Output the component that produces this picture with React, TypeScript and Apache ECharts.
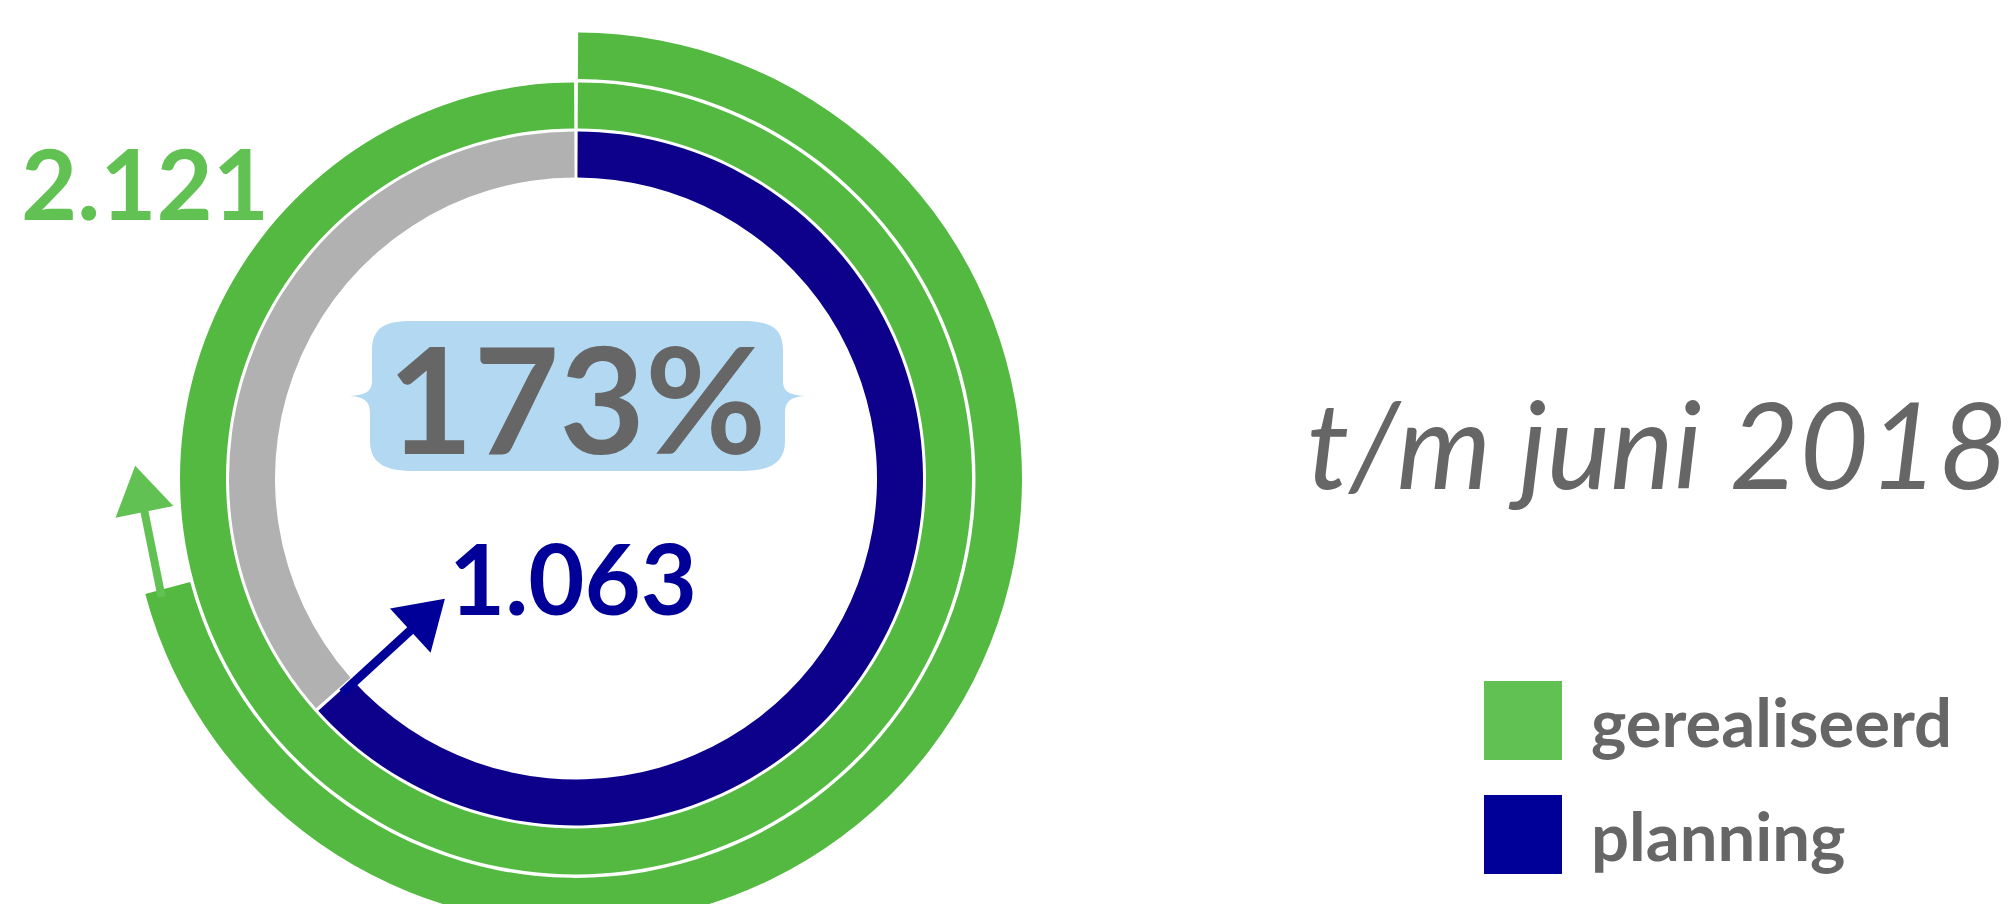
import React, { useEffect, useRef } from "react";
import * as echarts from "echarts";

// ---- data ----
const seriesNames = ["gerealiseerd", "planning"];
// share of a full circle drawn for each series (percent)
const ringShares = [170.9, 63.4];
const valueLabels = ["2.121", "1.063"];
const percentLabel = "173%";
const periodLabel = "t/m juni 2018";

// ---- styles ----
const GREEN_RING = "#53b941";
const GREEN = "#62c153";
const BLUE_RING = "#0d008b";
const BLUE = "#000099";
const GRAY = "#b1b1b1";
const TEXT = "#666666";
const BOX = "#b3d8f1";

const BRACE_D =
  "M 63 0 C 35 0 22 6 22 30 L 22 60 C 22 70 16 74 0 75 C 16 76 20 82 20 92 L 20 120 C 20 142 35 150 63 150 " +
  "L 392 150 C 420 150 435 142 435 120 L 435 92 C 435 82 439 76 455 75 C 439 74 433 70 433 60 L 433 30 C 433 6 420 0 392 0 Z";
echarts.graphic.registerShape("brace", echarts.graphic.extendPath(BRACE_D, {}));

export default function App() {
  const ref = useRef<HTMLDivElement>(null);
  useEffect(() => {
    document.body.style.margin = "0";
    const chart = echarts.init(ref.current as HTMLDivElement, null, { renderer: "svg" });
    const cx = 576;
    const cy = 478.4;
    const innerR = [301, 347];
    const middleR = [350, 396];
    const outerR = [399.5, 446];
    const pad = 0.55;
    const [realised, planned] = ringShares;
    const middleShare = Math.min(realised, 100);
    const outerShare = Math.max(realised - 100, 0);

    const polar = (r: number, deg: number) => {
      const a = (deg * Math.PI) / 180;
      return [cx + r * Math.sin(a), cy - r * Math.cos(a)];
    };
    const realisedEnd = (outerShare / 100) * 360;
    const plannedEnd = (planned / 100) * 360;

    const arrow = (from: number[], to: number[], color: string, width: number, headLen: number, headW: number) => {
      const dx = to[0] - from[0];
      const dy = to[1] - from[1];
      const L = Math.hypot(dx, dy);
      const ux = dx / L;
      const uy = dy / L;
      const base = [to[0] - ux * headLen, to[1] - uy * headLen];
      const px = -uy;
      const py = ux;
      return [
        {
          type: "line",
          z: 100,
          silent: true,
          shape: { x1: from[0], y1: from[1], x2: base[0] + ux * 3, y2: base[1] + uy * 3 },
          style: { stroke: color, lineWidth: width },
        },
        {
          type: "polygon",
          z: 100,
          silent: true,
          shape: {
            points: [
              to,
              [base[0] + (px * headW) / 2, base[1] + (py * headW) / 2],
              [base[0] - (px * headW) / 2, base[1] - (py * headW) / 2],
            ],
          },
          style: { fill: color },
        },
      ];
    };

    const commonPie = {
      type: "pie",
      center: [cx, cy],
      startAngle: 90,
      clockwise: true,
      padAngle: pad,
      silent: true,
      label: { show: false },
      labelLine: { show: false },
      emphasis: { disabled: true },
      itemStyle: { borderWidth: 0 },
    };

    const option = {
      animation: false,
      backgroundColor: "#ffffff",
      legend: {
        data: [
          { name: seriesNames[0], itemStyle: { color: GREEN } },
          { name: seriesNames[1], itemStyle: { color: BLUE } },
        ],
        orient: "vertical",
        left: 1484,
        top: 681,
        padding: 0,
        itemWidth: 78,
        itemHeight: 79,
        itemGap: 35,
        icon: "rect",
        selectedMode: false,
        textStyle: {
          fontFamily: "Lato",
          fontWeight: "bold",
          fontSize: 67,
          color: TEXT,
          padding: [0, 0, 0, 24],
        },
      },
      series: [
        {
          ...commonPie,
          name: "planning-ring",
          radius: innerR,
          data: [
            { name: seriesNames[1], value: planned, itemStyle: { color: BLUE_RING } },
            { name: "planning-rest", value: 100 - planned, itemStyle: { color: GRAY } },
          ],
        },
        {
          ...commonPie,
          name: "gerealiseerd-ring-1",
          radius: middleR,
          data: [{ name: seriesNames[0], value: middleShare, itemStyle: { color: GREEN_RING } }],
        },
        {
          ...commonPie,
          name: "gerealiseerd-ring-2",
          radius: outerR,
          data: [
            { name: seriesNames[0], value: outerShare, itemStyle: { color: GREEN_RING } },
            { name: "gerealiseerd-rest", value: 100 - outerShare, itemStyle: { color: "rgba(0,0,0,0)" } },
          ],
        },
      ],
      graphic: [
        { type: "brace", x: 350, y: 321, z: 90, silent: true, style: { fill: BOX } },
        {
          type: "text",
          x: 577,
          y: 397,
          z: 100,
          silent: true,
          style: {
            text: percentLabel,
            fontFamily: "Lato",
            fontWeight: "bold",
            fontSize: 148,
            fill: TEXT,
            align: "center",
            verticalAlign: "middle",
          },
        },
        {
          type: "text",
          x: 21,
          y: 182,
          z: 100,
          silent: true,
          style: {
            text: valueLabels[0],
            fontFamily: "Lato",
            fontWeight: "bold",
            fontSize: 97,
            fill: GREEN,
            align: "left",
            verticalAlign: "middle",
          },
        },
        {
          type: "text",
          x: 449,
          y: 577.5,
          z: 100,
          silent: true,
          style: {
            text: valueLabels[1],
            fontFamily: "Lato",
            fontWeight: "bold",
            fontSize: 97,
            fill: BLUE,
            align: "left",
            verticalAlign: "middle",
          },
        },
        {
          type: "text",
          x: 2008,
          y: 442.6,
          z: 100,
          silent: true,
          style: {
            text: periodLabel,
            fontFamily: "Lato",
            fontStyle: "italic",
            fontWeight: "normal",
            fontSize: 120,
            fill: TEXT,
            align: "right",
            verticalAlign: "middle",
          },
        },
        ...arrow(polar(317, plannedEnd - 0.8), polar(178, plannedEnd - 0.8), BLUE, 9, 47, 60),
        ...arrow(polar(431, realisedEnd - 1.2), polar(441, realisedEnd + 16.4), GREEN, 8, 47, 59),
      ],
    };
    chart.setOption(option as any);
    return () => chart.dispose();
  }, []);
  return <div ref={ref} style={{ width: 2013, height: 904 }} />;
}
